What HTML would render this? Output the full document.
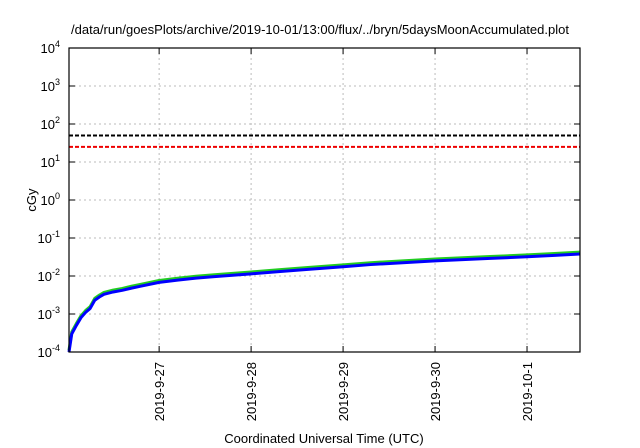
<!DOCTYPE html>
<html><head><meta charset="utf-8"><style>
body{margin:0;background:#fff}
svg{display:block;font-family:"Liberation Sans",sans-serif}
</style></head><body>
<svg id="c" width="640" height="448"></svg>
<script>
const xTickLabels=["2019-9-27","2019-9-28","2019-9-29","2019-9-30","2019-10-1"];
const xTickDays=[27,28,29,30,31];
const yTickExp=[-4,-3,-2,-1,0,1,2,3,4];
const seriesDays=[26.02,26.05,26.1,26.15,26.2,26.25,26.3,26.35,26.4,26.5,26.6,26.7,26.8,27,27.2,27.4,27.6,27.8,28,28.3,28.6,29,29.3,29.6,30,30.3,30.6,31,31.3,31.576];
const blueValues=[0.0001,0.0003,0.0005,0.0008,0.0011,0.0014,0.0023,0.0028,0.0033,0.0038,0.0042,0.0048,0.0054,0.0068,0.0078,0.0088,0.0096,0.0105,0.0114,0.013,0.0148,0.0175,0.02,0.022,0.025,0.027,0.029,0.032,0.035,0.038];
const greenValues=blueValues.map(v=>v*1.12);
const thresholdValues=[50,25];
const thresholdColors=["#000","#e00"];
const L=69,R=580,T=48,B=352,d0=26.02,d1=31.576;
const X=d=>L+(d-d0)/(d1-d0)*(R-L);
const Y=v=>B-(Math.log10(v)+4)/8*(B-T);
const s=document.getElementById('c'),NS="http://www.w3.org/2000/svg";
function el(t,a,txt){const e=document.createElementNS(NS,t);for(const k in a)e.setAttribute(k,a[k]);if(txt!==undefined)e.textContent=txt;s.appendChild(e);return e;}
let e=el('text',{x:320,y:34,'text-anchor':'middle','font-size':13},'/data/run/goesPlots/archive/2019-10-01/13:00/flux/../bryn/5daysMoonAccumulated.plot');

yTickExp.forEach(p=>{const y=Y(Math.pow(10,p));
 if(p>-4&&p<4){e=el('line',{x1:L,x2:R,y1:y,y2:y,stroke:'#bbb','stroke-dasharray':'2,3','stroke-width':1});}
 el('line',{x1:L,x2:L+6,y1:y,y2:y,stroke:'#000'});el('line',{x1:R,x2:R-6,y1:y,y2:y,stroke:'#000'});
 e=el('text',{x:L-9,y:y+5,'text-anchor':'end','font-size':13});
 e.innerHTML='10<tspan dy="-6" font-size="9">'+p+'</tspan>';});
xTickDays.forEach((d,i)=>{const x=X(d);
 e=el('line',{x1:x,x2:x,y1:T,y2:B,stroke:'#bbb','stroke-dasharray':'2,3'});
 el('line',{x1:x,x2:x,y1:B,y2:B-6,stroke:'#000'});el('line',{x1:x,x2:x,y1:T,y2:T+6,stroke:'#000'});
 e=el('text',{x:0,y:0,'text-anchor':'end','font-size':13,transform:`translate(${x+5},${B+10}) rotate(-90)`},xTickLabels[i]);});
thresholdValues.forEach((v,i)=>{e=el('line',{x1:L,x2:R,y1:Y(v),y2:Y(v),stroke:thresholdColors[i],'stroke-width':2,'stroke-dasharray':'4,2'});});
function line(vals,col,w,name){e=el('polyline',{points:seriesDays.map((d,i)=>X(d)+','+Y(vals[i])).join(' '),fill:'none',stroke:col,'stroke-width':w,'stroke-linejoin':'round'});}
line(greenValues,'#2c2',3,'green-series');
line(blueValues,'#00f',3,'blue-series');
e=el('rect',{x:L,y:T,width:R-L,height:B-T,fill:'none',stroke:'#000','stroke-width':1.2});
e=el('text',{x:0,y:0,'text-anchor':'middle','font-size':13,transform:'translate(36,200) rotate(-90)'},'cGy');
e=el('text',{x:324,y:443,'text-anchor':'middle','font-size':13},'Coordinated Universal Time (UTC)');
</script>
</body></html>
